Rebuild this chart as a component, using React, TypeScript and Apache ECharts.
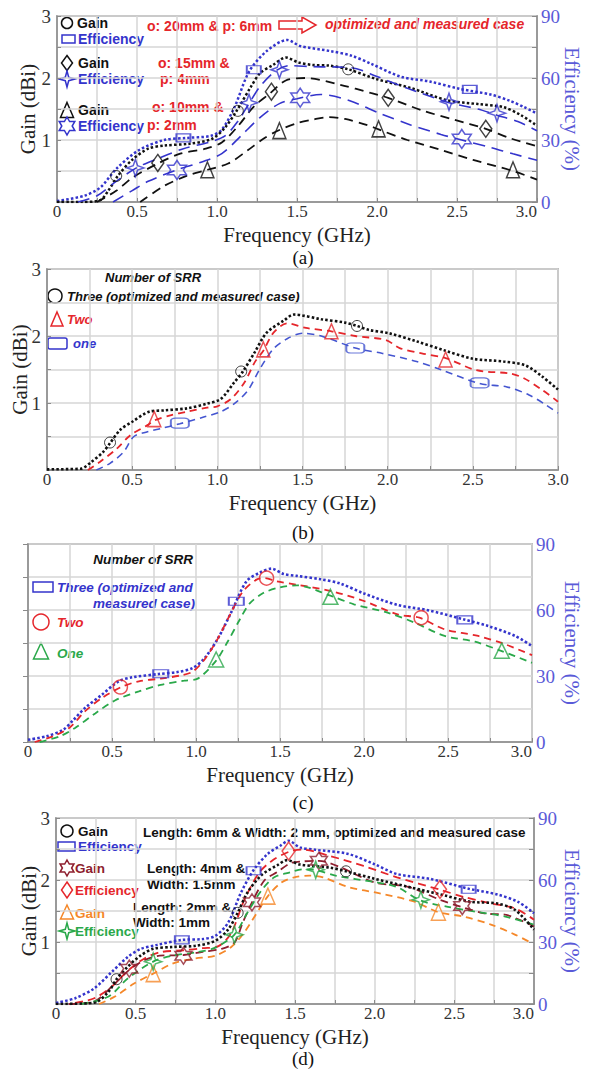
import React, { useEffect, useRef } from "react";
import * as echarts from "echarts";

// ---------------- DATA ----------------
// (a) gain in dBi, efficiency in %
const aGain20 = [[0,0],[0.15,0],[0.27,0.03],[0.32,0.18],[0.38,0.42],[0.47,0.68],[0.57,0.86],[0.67,0.91],[0.83,0.94],[0.97,1.02],[1.05,1.2],[1.12,1.46],[1.21,1.85],[1.27,2.08],[1.35,2.21],[1.43,2.33],[1.51,2.25],[1.6,2.21],[1.7,2.2],[1.82,2.14],[2.0,1.98],[2.21,1.84],[2.44,1.64],[2.63,1.58],[2.79,1.53],[2.9,1.4],[3.0,1.23]];
const aGain20Marks = [[0.37,0.42],[1.13,1.47],[1.82,2.14]];
const aEff20 = [[0,0.5],[0.17,3],[0.27,7],[0.37,16],[0.51,25],[0.67,30],[0.81,31],[0.96,32],[1.03,35],[1.11,46],[1.2,63],[1.31,73],[1.44,78.4],[1.52,75.5],[1.71,73],[1.84,70.8],[1.96,67],[2.15,60.6],[2.33,58.3],[2.52,54.7],[2.71,52],[2.83,49],[2.92,45.9],[3.0,42.8]];
const aEff20Marks = [[0.79,31],[1.23,64],[2.58,54.5]];
const aGain15 = [[0.25,0],[0.37,0.18],[0.47,0.39],[0.63,0.62],[0.77,0.78],[0.93,0.86],[1.03,0.96],[1.13,1.22],[1.23,1.54],[1.33,1.75],[1.43,1.96],[1.55,2.0],[1.77,1.89],[1.96,1.76],[2.07,1.68],[2.29,1.47],[2.48,1.33],[2.68,1.18],[2.83,1.03],[3.0,0.9]];
const aGain15Marks = [[0.63,0.63],[1.34,1.78],[2.07,1.68],[2.68,1.18]];
const aEff15 = [[0.13,0],[0.25,3],[0.37,10],[0.5,16.7],[0.63,21],[0.79,25.8],[0.95,28.9],[1.05,32],[1.13,39],[1.2,47.6],[1.27,56],[1.37,63.6],[1.45,66],[1.6,65.5],[1.84,65],[2.0,60.7],[2.19,55],[2.38,49.8],[2.45,48],[2.63,45],[2.75,42],[2.88,38.9],[3.0,34.5]];
const aEff15Marks = [[0.49,16.5],[1.2,48],[1.39,64],[2.45,48.5],[2.75,43]];
const aGain10 = [[0.52,0],[0.67,0.26],[0.81,0.42],[0.94,0.52],[1.07,0.62],[1.19,0.83],[1.29,1.02],[1.38,1.15],[1.5,1.27],[1.6,1.33],[1.7,1.37],[1.8,1.34],[1.94,1.24],[2.01,1.17],[2.19,1.0],[2.4,0.84],[2.6,0.68],[2.85,0.5],[3.0,0.36]];
const aGain10Marks = [[0.94,0.52],[1.39,1.15],[2.01,1.18],[2.85,0.52]];
const aEff10 = [[0.35,0],[0.47,5.5],[0.57,10],[0.75,15.6],[0.91,19.5],[1.03,23.4],[1.15,32],[1.27,41],[1.39,47.6],[1.5,50],[1.65,52],[1.83,49],[2.02,42.8],[2.21,37.3],[2.4,32.7],[2.53,30],[2.71,26.4],[2.85,23.3],[3.0,20.2]];
const aEff10Marks = [[0.75,15.5],[1.52,50.5],[2.53,30.5]];

// (b) gain in dBi
const bThree = [[0,0.01],[0.2,0.02],[0.26,0.12],[0.33,0.27],[0.37,0.4],[0.43,0.6],[0.5,0.72],[0.6,0.87],[0.69,0.89],[0.82,0.92],[0.94,0.99],[1.02,1.06],[1.1,1.31],[1.15,1.47],[1.22,1.76],[1.29,2.05],[1.39,2.23],[1.45,2.32],[1.61,2.25],[1.75,2.2],[1.82,2.15],[1.89,2.09],[2.01,2.04],[2.17,1.92],[2.34,1.78],[2.5,1.66],[2.68,1.62],[2.81,1.56],[2.91,1.39],[3.0,1.2]];
const bThreeMarks = [[0.37,0.41],[1.14,1.47],[1.82,2.15]];
const bTwo = [[0.24,0],[0.31,0.12],[0.41,0.32],[0.49,0.52],[0.59,0.67],[0.63,0.74],[0.73,0.82],[0.82,0.87],[0.94,0.93],[1.0,0.95],[1.08,1.06],[1.16,1.31],[1.22,1.61],[1.27,1.78],[1.33,2.05],[1.41,2.19],[1.52,2.12],[1.67,2.07],[1.81,2.0],[1.99,1.94],[2.07,1.82],[2.2,1.74],[2.34,1.67],[2.52,1.49],[2.72,1.44],[2.8,1.37],[2.91,1.19],[3.0,1.02]];
const bTwoMarks = [[0.63,0.76],[1.27,1.8],[1.67,2.07],[2.34,1.65]];
const bOne = [[0.29,0],[0.37,0.1],[0.45,0.27],[0.51,0.5],[0.59,0.57],[0.67,0.62],[0.78,0.69],[0.92,0.79],[1.02,0.87],[1.1,0.99],[1.18,1.19],[1.25,1.51],[1.33,1.81],[1.41,1.96],[1.5,2.04],[1.61,2.0],[1.81,1.82],[1.97,1.74],[2.17,1.62],[2.32,1.49],[2.54,1.29],[2.7,1.24],[2.83,1.12],[2.93,0.97],[3.0,0.85]];
const bOneMarks = [[0.78,0.7],[1.81,1.82],[2.54,1.3]];

// (c) efficiency in %
const cThree = [[0,1],[0.11,2.6],[0.21,5.6],[0.27,10],[0.34,15.5],[0.44,21.5],[0.54,27.6],[0.62,29.4],[0.78,30.9],[0.89,31.8],[0.98,33.6],[1.05,38],[1.13,47],[1.21,59],[1.3,73],[1.38,77],[1.45,78.8],[1.52,76.4],[1.6,75.5],[1.74,74],[1.86,72],[2.0,67.5],[2.2,62.3],[2.38,59.9],[2.59,55.8],[2.74,52.7],[2.9,48.2],[3.0,43.6]];
const cThreeMarks = [[0.79,31],[1.24,64],[2.6,55.5]];
const cTwo = [[0.04,0],[0.15,2.6],[0.25,6.7],[0.34,14],[0.44,20],[0.55,24.8],[0.66,27.6],[0.79,28.8],[0.91,30.3],[0.98,32],[1.05,37.4],[1.13,47],[1.21,59],[1.28,68.5],[1.36,73.8],[1.41,74.5],[1.48,73],[1.6,71.5],[1.8,68.7],[2.0,64.1],[2.2,58],[2.33,56.5],[2.48,51.2],[2.68,48.2],[2.84,44.4],[3.0,39.5]];
const cTwoMarks = [[0.55,25],[1.42,74.5],[2.34,56.5]];
const cOne = [[0.07,0],[0.19,2.6],[0.28,6.4],[0.4,13],[0.52,19],[0.66,23],[0.79,26],[0.93,27.9],[1.01,28.8],[1.12,37],[1.19,45.8],[1.26,55.6],[1.32,63],[1.4,67.7],[1.5,70.3],[1.6,71.2],[1.8,66.5],[1.94,62.6],[2.14,58.8],[2.3,54.3],[2.48,48.2],[2.66,45.6],[2.82,41.3],[3.0,36]];
const cOneMarks = [[1.12,37.5],[1.8,66],[2.82,41.5]];

// (d)
const dEff6 = [[0,0.5],[0.12,2.8],[0.24,7.6],[0.35,15.5],[0.45,22.7],[0.53,26.6],[0.63,28.5],[0.79,31],[0.92,31.4],[1.0,33],[1.08,39.3],[1.16,53.7],[1.24,64.8],[1.33,72.7],[1.41,76.7],[1.46,79],[1.53,75.8],[1.63,74.6],[1.83,72.7],[2.0,67.6],[2.14,62.9],[2.35,60.5],[2.59,55.8],[2.77,53],[2.9,49.4],[3.0,43.9]];
const dEff6Marks = [[0.79,31],[1.24,64.5],[2.59,55.5]];
const dGain6 = [[0,0],[0.24,0.02],[0.33,0.2],[0.38,0.4],[0.45,0.6],[0.53,0.78],[0.61,0.89],[0.73,0.92],[0.88,0.94],[1.0,1.02],[1.08,1.2],[1.14,1.47],[1.2,1.79],[1.29,2.08],[1.39,2.24],[1.45,2.32],[1.53,2.25],[1.72,2.2],[1.82,2.14],[2.0,2.02],[2.21,1.89],[2.44,1.75],[2.6,1.65],[2.77,1.62],[2.88,1.52],[3.0,1.2]];
const dGain6Marks = [[0.38,0.4],[1.14,1.47],[1.82,2.14]];
const dGain4 = [[0.08,0],[0.24,0.04],[0.35,0.28],[0.46,0.55],[0.55,0.7],[0.65,0.78],[0.8,0.79],[0.92,0.84],[1.04,0.89],[1.12,0.99],[1.17,1.3],[1.23,1.64],[1.31,2.0],[1.39,2.13],[1.47,2.27],[1.55,2.3],[1.65,2.31],[1.79,2.2],[2.0,1.96],[2.21,1.89],[2.42,1.67],[2.54,1.57],[2.69,1.46],[2.82,1.44],[3.0,1.25]];
const dGain4Marks = [[0.46,0.57],[0.8,0.78],[1.23,1.64],[1.65,2.31],[2.55,1.58]];
const dEff4 = [[0.12,0.5],[0.24,2.8],[0.35,8.4],[0.46,16.7],[0.55,21.8],[0.65,25],[0.8,26],[0.92,27],[1.02,28],[1.1,34.4],[1.18,50],[1.27,63],[1.35,69],[1.46,73.6],[1.55,74.7],[1.72,71.6],[1.93,66.8],[2.14,61.3],[2.41,55.3],[2.56,51.8],[2.73,48.7],[2.88,46.3],[3.0,40.8]];
const dEff4Marks = [[1.46,74],[2.41,55.5]];
const dGain2 = [[0.27,0],[0.37,0.12],[0.49,0.33],[0.61,0.49],[0.73,0.65],[0.86,0.73],[1.0,0.78],[1.1,0.92],[1.18,1.15],[1.33,1.74],[1.41,1.95],[1.49,2.04],[1.59,2.07],[1.68,2.04],[1.83,1.89],[2.04,1.78],[2.25,1.65],[2.4,1.48],[2.56,1.41],[2.73,1.28],[2.88,1.12],[2.98,0.99]];
const dGain2Marks = [[0.61,0.49],[1.33,1.74],[2.4,1.48]];
const dEff2 = [[0.16,0],[0.33,3.6],[0.45,12.3],[0.61,20.5],[0.73,23.4],[0.88,25],[1.0,27.3],[1.12,33.6],[1.2,44],[1.29,55],[1.37,61.3],[1.47,63.7],[1.55,65.2],[1.63,64.8],[1.76,62],[2.0,59],[2.14,56.6],[2.29,50],[2.46,47],[2.63,44.7],[2.82,42.3],[3.0,38.4]];
const dEff2Marks = [[0.61,20.5],[1.12,33.5],[1.63,65],[2.29,50.5]];

const panelLabels = ["(a)", "(b)", "(c)", "(d)"];

// ---------------- STYLE ----------------
const SERIF = "Liberation Serif, Times New Roman, serif";
const SANS = "Liberation Sans, Arial, sans-serif";
const BLACK = "#111111";
const BLUE = "#3434cc";
const BLUE_AX = "#5a5ad8";
const RED = "#e5262b";
const GREEN = "#2aa84a";
const ORANGE = "#f5882a";
const DRED = "#8e1f2f";
const GRIDC = "#d6d6d6";
const AXC = "#8a8a8a";

const STAR4 = "path://M0,-10 L2.6,-2.6 L10,0 L2.6,2.6 L0,10 L-2.6,2.6 L-10,0 L-2.6,-2.6 Z";
const STAR6 = "path://M0,-10 L2.887,-5 L8.66,-5 L5.774,0 L8.66,5 L2.887,5 L0,10 L-2.887,5 L-8.66,5 L-5.774,0 L-8.66,-5 L-2.887,-5 Z";

const grids = [
  { left: 57, top: 16, width: 483, height: 186 },
  { left: 47, top: 269, width: 511, height: 201 },
  { left: 28, top: 544, width: 507, height: 198 },
  { left: 56, top: 818, width: 481, height: 186 },
];

const serifStyle = (size: number, color: string) => ({ fontFamily: SERIF, fontSize: size, color, fontWeight: "normal" });

function xAxis(i: number, hasRight: boolean) {
  return {
    type: "value", gridIndex: i, min: 0, max: 3, interval: 0.25,
    name: "Frequency (GHz)", nameLocation: "middle", nameGap: 22, nameMoveOverlap: false,
    nameTextStyle: { ...serifStyle(21, "#222"), lineHeight: 21 },
    axisLine: { show: true, lineStyle: { color: AXC, width: 1.5 } },
    axisTick: { show: true, inside: true, length: 4, lineStyle: { color: AXC } },
    splitLine: { show: true, lineStyle: { color: GRIDC, width: 1.5 } },
    axisLabel: {
      ...serifStyle(17, "#333"), margin: 2, lineHeight: 15,
      alignMaxLabel: hasRight ? "right" : "center",
      formatter: (v: number) => {
        const r = Math.round(v * 100) / 100;
        if (Math.abs(r * 2 - Math.round(r * 2)) > 1e-6) return "";
        return r === 0 ? "0" : r.toFixed(1);
      },
    },
  };
}

function gainAxis(i: number, gap: number) {
  return {
    type: "value", gridIndex: i, position: "left", min: 0, max: 3, interval: 0.5,
    name: "Gain (dBi)", nameLocation: "middle", nameGap: gap, nameMoveOverlap: false,
    nameTextStyle: serifStyle(21, "#222"),
    axisLine: { show: true, lineStyle: { color: AXC, width: 1.5 } },
    axisTick: { show: true, inside: true, length: 4, lineStyle: { color: AXC } },
    splitLine: { show: true, lineStyle: { color: GRIDC, width: 1.5 } },
    axisLabel: {
      ...serifStyle(19, "#333"), margin: 6,
      formatter: (v: number) => (v >= 1 && Math.abs(v - Math.round(v)) < 1e-6 ? String(Math.round(v)) : ""),
    },
  };
}

function effAxis(i: number, gap: number, split: boolean) {
  return {
    type: "value", gridIndex: i, position: "right", min: 0, max: 90, interval: 15,
    name: "Efficiency (%)", nameLocation: "middle", nameGap: gap, nameRotate: -90, nameMoveOverlap: false,
    nameTextStyle: serifStyle(21, BLUE_AX),
    axisLine: { show: true, lineStyle: { color: AXC, width: 1.5 } },
    axisTick: { show: true, inside: true, length: 5, lineStyle: { color: AXC } },
    splitLine: { show: split, lineStyle: { color: GRIDC, width: 1.5 } },
    axisLabel: {
      ...serifStyle(19, BLUE_AX), margin: 4,
      formatter: (v: number) => {
        const r = Math.round(v);
        return r % 30 === 0 ? String(r) : "";
      },
    },
  };
}

function line(data: number[][], xi: number, yi: number, color: string, width: number, dash: number[]) {
  return {
    type: "line", xAxisIndex: xi, yAxisIndex: yi, data, showSymbol: false, smooth: 0.3,
    lineStyle: { color, width, type: dash, cap: "butt" }, silent: true, z: 3,
  };
}

function marks(data: number[][], xi: number, yi: number, symbol: string, size: any, color: string, bw = 1.5) {
  return {
    type: "scatter", xAxisIndex: xi, yAxisIndex: yi, data, symbol, symbolSize: size,
    itemStyle: { color: "rgba(255,255,255,0)", borderColor: color, borderWidth: bw },
    silent: true, z: 5,
  };
}

// legend icon helpers
function starPts(cx: number, cy: number, R: number, n: number, inner: number) {
  const pts: number[][] = [];
  for (let k = 0; k < 2 * n; k++) {
    const a = -Math.PI / 2 + (k * Math.PI) / n;
    const r = k % 2 === 0 ? R : R * inner;
    pts.push([cx + r * Math.cos(a), cy + r * Math.sin(a)]);
  }
  return pts;
}
function tx(text: string, x: number, y: number, fill: string, size: number, opts: any = {}) {
  return {
    type: "text", x, y, silent: true,
    style: {
      text, fill,
      fontSize: size,
      fontFamily: opts.family || SANS,
      fontWeight: opts.weight || "bold",
      fontStyle: opts.italic ? "italic" : "normal",
      align: opts.align || "left", verticalAlign: "middle",
    },
  };
}
function circ(cx: number, cy: number, r: number, stroke: string, lw = 1.5) {
  return { type: "circle", silent: true, shape: { cx, cy, r }, style: { fill: "none", stroke, lineWidth: lw } };
}
function rct(x: number, y: number, w: number, h: number, stroke: string, r = 0) {
  return { type: "rect", silent: true, shape: { x, y, width: w, height: h, r }, style: { fill: "none", stroke, lineWidth: 1.5 } };
}
function poly(points: number[][], stroke: string, lw = 1.5) {
  return { type: "polygon", silent: true, shape: { points }, style: { fill: "none", stroke, lineWidth: lw } };
}
function tri(cx: number, cy: number, w: number, h: number) {
  return [[cx, cy - h / 2], [cx + w / 2, cy + h / 2], [cx - w / 2, cy + h / 2]];
}
function dia(cx: number, cy: number, w: number, h: number) {
  return [[cx, cy - h / 2], [cx + w / 2, cy], [cx, cy + h / 2], [cx - w / 2, cy]];
}

export default function App() {
  const ref = useRef<HTMLDivElement>(null);
  useEffect(() => {
    if (!ref.current) return;
    const chart = echarts.init(ref.current, undefined, { renderer: "svg" });
    const I = { italic: true };
    const IR = { italic: true, align: "right" };

    const graphicEls: any[] = [
      // (a) legend
      circ(67, 23, 5.5, BLACK), tx("Gain", 77, 23, BLACK, 14),
      rct(62, 35, 13, 8, BLUE), tx("Efficiency", 78, 39, BLUE, 14),
      poly(dia(67, 63, 11, 15), BLACK), tx("Gain", 78, 63, BLACK, 14),
      poly(starPts(67, 79, 8, 4, 0.3), BLUE), tx("Efficiency", 78, 79, BLUE, 14),
      poly(tri(67, 110, 13, 15), BLACK), tx("Gain", 78, 110, BLACK, 14),
      poly(starPts(67, 126, 9, 6, 0.577), BLUE), tx("Efficiency", 78, 126, BLUE, 14),
      tx("o: 20mm & p: 6mm", 147, 26, RED, 14),
      poly([[279, 21], [302, 21], [302, 17], [316, 25], [302, 33], [302, 29], [279, 29]], RED, 1.5),
      tx("optimized and measured case", 325, 24, RED, 14, I),
      tx("o: 15mm &", 158, 63, RED, 14), tx("p: 4mm", 160, 79, RED, 14),
      tx("o: 10mm &", 152, 107, RED, 14), tx("p: 2mm", 147, 125, RED, 14),
      // (b) legend
      tx("Number of SRR", 105, 277, BLACK, 13, I),
      circ(55, 296, 7, BLACK), tx("Three (optimized and measured case)", 67, 296, BLACK, 13, I),
      poly(tri(57, 319, 12, 14), RED), tx("Two", 67, 319, RED, 13, I),
      rct(48, 338, 19, 11, BLUE, 2), tx("one", 73, 343, BLUE, 13, I),
      // (c) legend
      tx("Number of SRR", 193, 559, BLACK, 13.5, IR),
      rct(33, 582, 20, 10, BLUE), tx("Three (optimized and", 57, 587, BLUE, 13.5, I),
      tx("measured case)", 195, 603, BLUE, 13.5, IR),
      circ(41, 622, 8, RED), tx("Two", 57, 622, RED, 13.5, I),
      poly(tri(41, 651, 15, 16), GREEN), tx("One", 57, 653, GREEN, 13.5, I),
      // (d) legend
      circ(67, 831, 6, BLACK), tx("Gain", 78, 831, BLACK, 13.5),
      rct(58, 842, 17, 9, BLUE), tx("Efficiency", 78, 846, BLUE, 13.5),
      poly(starPts(67, 868, 8, 6, 0.577), DRED), tx("Gain", 75, 868, DRED, 13.5),
      poly(dia(67, 890, 11, 16), RED), tx("Efficiency", 75, 890, RED, 13.5),
      poly(tri(67, 912, 13, 14), ORANGE), tx("Gain", 75, 913, ORANGE, 13.5),
      poly(starPts(67, 931, 8, 4, 0.3), GREEN), tx("Efficiency", 75, 931, GREEN, 13.5),
      tx("Length: 6mm & Width: 2 mm, optimized and measured case", 143, 832, BLACK, 13.5),
      tx("Length: 4mm &", 147, 868, BLACK, 13.5), tx("Width: 1.5mm", 147, 884, BLACK, 13.5),
      tx("Length: 2mm &", 133, 907, BLACK, 13.5), tx("Width: 1mm", 133, 922, BLACK, 13.5),
    ];
    const labelY = [257, 532, 802, 1058];
    panelLabels.forEach((t, i) =>
      graphicEls.push(tx(t, 303, labelY[i], "#111", 19, { family: SERIF, weight: "normal", align: "center" }))
    );

    const dotted = [2.5, 2.2];
    const option: any = {
      animation: false,
      backgroundColor: "#ffffff",
      textStyle: { fontFamily: SERIF },
      grid: grids.map((g) => ({ ...g, show: true, borderColor: AXC, borderWidth: 1.5, backgroundColor: "transparent" })),
      xAxis: [xAxis(0, true), xAxis(1, false), xAxis(2, true), xAxis(3, true)],
      yAxis: [
        gainAxis(0, 19),
        effAxis(0, 24, false),
        gainAxis(1, 17),
        effAxis(2, 29, true),
        gainAxis(3, 17),
        effAxis(3, 27, false),
      ],
      graphic: { elements: graphicEls },
      series: [
        // (a)
        line(aEff20, 0, 1, BLUE, 2.5, dotted),
        line(aGain20, 0, 0, BLACK, 2.5, dotted),
        line(aGain15, 0, 0, BLACK, 1.8, [9, 6]),
        line(aGain10, 0, 0, BLACK, 1.8, [9, 6]),
        line(aEff15, 0, 1, BLUE, 1.6, [12, 7]),
        line(aEff10, 0, 1, BLUE, 1.6, [12, 7]),
        marks(aEff20Marks, 0, 1, "rect", [14, 8], BLUE),
        marks(aGain20Marks, 0, 0, "circle", 11, BLACK, 1),
        marks(aGain15Marks, 0, 0, "diamond", [12, 17], BLACK),
        marks(aGain10Marks, 0, 0, "triangle", [13, 16], BLACK),
        marks(aEff15Marks, 0, 1, STAR4, 17, BLUE),
        marks(aEff10Marks, 0, 1, STAR6, 19, BLUE),
        // (b)
        line(bThree, 1, 2, BLACK, 2.6, dotted),
        line(bTwo, 1, 2, RED, 1.8, [7, 5]),
        line(bOne, 1, 2, "#4455d0", 1.6, [7, 5]),
        marks(bThreeMarks, 1, 2, "circle", 11, BLACK, 1),
        marks(bTwoMarks, 1, 2, "triangle", [13, 15], RED),
        marks(bOneMarks, 1, 2, "roundRect", [18, 10], "#4455d0"),
        // (c)
        line(cThree, 2, 3, BLUE, 2.6, dotted),
        line(cTwo, 2, 3, RED, 1.8, [7, 5]),
        line(cOne, 2, 3, GREEN, 1.8, [7, 5]),
        marks(cThreeMarks, 2, 3, "rect", [15, 8], BLUE),
        marks(cTwoMarks, 2, 3, "circle", 14, RED),
        marks(cOneMarks, 2, 3, "triangle", [15, 15], GREEN),
        // (d)
        line(dEff6, 3, 5, BLUE, 2.5, dotted),
        line(dEff4, 3, 5, RED, 1.8, [8, 5]),
        line(dGain4, 3, 4, DRED, 1.8, [8, 5]),
        line(dEff2, 3, 5, GREEN, 1.8, [7, 5]),
        line(dGain2, 3, 4, ORANGE, 1.8, [7, 5]),
        line(dGain6, 3, 4, BLACK, 2.6, dotted),
        marks(dEff6Marks, 3, 5, "rect", [14, 8], BLUE),
        marks(dGain6Marks, 3, 4, "circle", 11, BLACK, 1),
        marks(dGain4Marks, 3, 4, STAR6, 17, DRED),
        marks(dEff4Marks, 3, 5, "diamond", [13, 18], RED),
        marks(dGain2Marks, 3, 4, "triangle", [14, 16], ORANGE),
        marks(dEff2Marks, 3, 5, STAR4, 17, GREEN),
      ],
    };
    chart.setOption(option);
    return () => chart.dispose();
  }, []);
  return <div ref={ref} style={{ position: "absolute", left: 0, top: 0, width: 590, height: 1069, background: "#fff" }} />;
}
